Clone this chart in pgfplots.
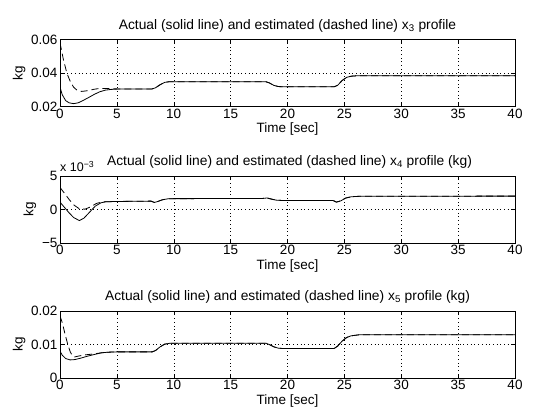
\documentclass[border=0pt]{standalone}
\usepackage{pgfplots}
\pgfplotsset{compat=1.18}
\usepackage{fontspec}
\setmainfont{Liberation Sans}
\pgfplotsset{
  mstyle/.style={
    scale only axis, width=455pt, height=67pt,
    xmin=0, xmax=40,
    xtick={0,5,...,40},
    xticklabels={0,5,10,15,20,25,30,35,40},
    scaled y ticks=false, scaled x ticks=false,
    tick align=inside, major tick length=4pt,
    grid=major,
    major grid style={black, line width=0.5pt, dash pattern=on 0.7pt off 3pt},
    axis line style={line width=0.7pt},
    tick style={line width=0.5pt, black},
    every tick label/.append style={font=\fontsize{13.5}{15}\selectfont},
    xticklabel style={yshift=1pt},
    yticklabel style={xshift=1pt},
    label style={font=\fontsize{13.5}{15}\selectfont},
    title style={font=\fontsize{13.8}{15}\selectfont, yshift=-2pt},
    xlabel={Time [sec]},
    ylabel={kg},
    xlabel style={yshift=2.5pt},
    ylabel style={yshift=-1pt},
    clip mode=individual,
  },
  act/.style={black, line width=0.8pt},
  est/.style={black, line width=0.8pt, dash pattern=on 7pt off 4pt},
}
\begin{document}
\begin{tikzpicture}
\path[use as bounding box] (0,0) rectangle (538pt,418pt);

% ---------- x3 ----------
\begin{axis}[mstyle, at={(60pt,311.5pt)}, anchor=south west,
  ymin=0.02, ymax=0.06, ytick={0.02,0.04,0.06}, yticklabels={0.02,0.04,0.06},
  title={Actual (solid line) and estimated (dashed line) x\textsubscript{3} profile}]
\addplot[act] coordinates {(0,0.0315) (0.2,0.027) (0.5,0.0235) (0.8,0.0222) (1.2,0.0217) (1.6,0.0222) (2.0,0.0235) (2.5,0.0253) (3.0,0.0272) (3.5,0.0288) (4.0,0.0298) (4.5,0.0302) (5,0.0304) (8.1,0.0305) (8.4,0.0312) (8.8,0.0330) (9.2,0.0344) (9.6,0.0348) (10,0.0348) (18.1,0.0348) (18.4,0.0341) (18.8,0.0326) (19.2,0.0319) (19.6,0.0318) (24.1,0.0318) (24.4,0.0326) (24.8,0.0355) (25.2,0.0374) (25.6,0.0381) (26.2,0.0384) (40,0.0384)};
\addplot[est] coordinates {(0,0.058) (0.3,0.048) (0.6,0.040) (0.9,0.035) (1.2,0.0315) (1.5,0.0297) (1.9,0.029) (2.5,0.0295) (3.0,0.0303) (3.5,0.0308) (4.0,0.0308) (5,0.0305) (8.1,0.0305) (8.4,0.0312) (8.8,0.0330) (9.2,0.0344) (9.6,0.0348) (10,0.0348) (18.1,0.0348) (18.4,0.0341) (18.8,0.0326) (19.2,0.0319) (19.6,0.0318) (24.1,0.0318) (24.4,0.0326) (24.8,0.0355) (25.2,0.0374) (25.6,0.0381) (26.2,0.0384) (40,0.0384)};
\end{axis}

% ---------- x4 ----------
\begin{axis}[mstyle, at={(60pt,175pt)}, anchor=south west,
  ymin=-5, ymax=5, ytick={-5,0,5}, yticklabels={−5,0,5},
  title={Actual (solid line) and estimated (dashed line) x\textsubscript{4} profile (kg)},
  title style={xshift=2pt}]
\addplot[act] coordinates {(0,1.1) (0.4,0.3) (0.8,-0.5) (1.2,-1.2) (1.7,-1.65) (2.1,-1.3) (2.6,-0.4) (3.1,0.5) (3.6,1.0) (4.0,1.15) (5,1.2) (8.0,1.25) (8.3,1.05) (8.6,1.2) (9.0,1.45) (9.5,1.6) (10,1.62) (17.8,1.65) (18.2,1.72) (18.6,1.55) (19.0,1.4) (19.5,1.35) (24.0,1.35) (24.3,1.1) (24.7,1.3) (25.1,1.7) (25.6,1.9) (26.3,1.97) (40,2.0)};
\addplot[est] coordinates {(0,3.3) (0.4,2.4) (0.8,1.5) (1.2,0.7) (1.7,0.1) (2.2,0.05) (2.7,0.4) (3.2,0.9) (3.6,1.1) (4.0,1.15) (5,1.2) (8.0,1.25) (8.3,1.05) (8.6,1.2) (9.0,1.45) (9.5,1.6) (10,1.62) (17.8,1.65) (18.2,1.72) (18.6,1.55) (19.0,1.4) (19.5,1.35) (24.0,1.35) (24.3,1.1) (24.7,1.3) (25.1,1.7) (25.6,1.9) (26.3,1.97) (40,2.0)};
\node[anchor=south west, font=\fontsize{12.5}{14}\selectfont, inner sep=0pt] at (rel axis cs:0,1) [yshift=4pt] {x 10\textsuperscript{−3}};
\end{axis}

% ---------- x5 ----------
\begin{axis}[mstyle, at={(60pt,40pt)}, anchor=south west,
  ymin=0, ymax=0.02, ytick={0,0.01,0.02}, yticklabels={0,0.01,0.02},
  title={Actual (solid line) and estimated (dashed line) x\textsubscript{5} profile (kg)}]
\addplot[act] coordinates {(0,0.0080) (0.2,0.0068) (0.5,0.0058) (0.9,0.0054) (1.3,0.0055) (1.8,0.0059) (2.4,0.0065) (3.0,0.0070) (3.6,0.0075) (4.2,0.0077) (5,0.0078) (8.1,0.0078) (8.4,0.0082) (8.8,0.0093) (9.2,0.0101) (9.7,0.0104) (10,0.0104) (18.1,0.0104) (18.4,0.0100) (18.8,0.0093) (19.2,0.0089) (19.6,0.0088) (24.1,0.0088) (24.4,0.0095) (24.8,0.0110) (25.2,0.0121) (25.6,0.0126) (26.3,0.0129) (40,0.0129)};
\addplot[est] coordinates {(0,0.0185) (0.2,0.0165) (0.45,0.013) (0.7,0.0098) (0.9,0.0078) (1.1,0.0066) (1.3,0.0063) (1.7,0.0066) (2.2,0.0069) (3.0,0.0072) (3.6,0.0075) (4.2,0.0077) (5,0.0078) (8.1,0.0078) (8.4,0.0082) (8.8,0.0093) (9.2,0.0101) (9.7,0.0104) (10,0.0104) (18.1,0.0104) (18.4,0.0100) (18.8,0.0093) (19.2,0.0089) (19.6,0.0088) (24.1,0.0088) (24.4,0.0095) (24.8,0.0110) (25.2,0.0121) (25.6,0.0126) (26.3,0.0129) (40,0.0129)};
\end{axis}
\end{tikzpicture}
\end{document}
